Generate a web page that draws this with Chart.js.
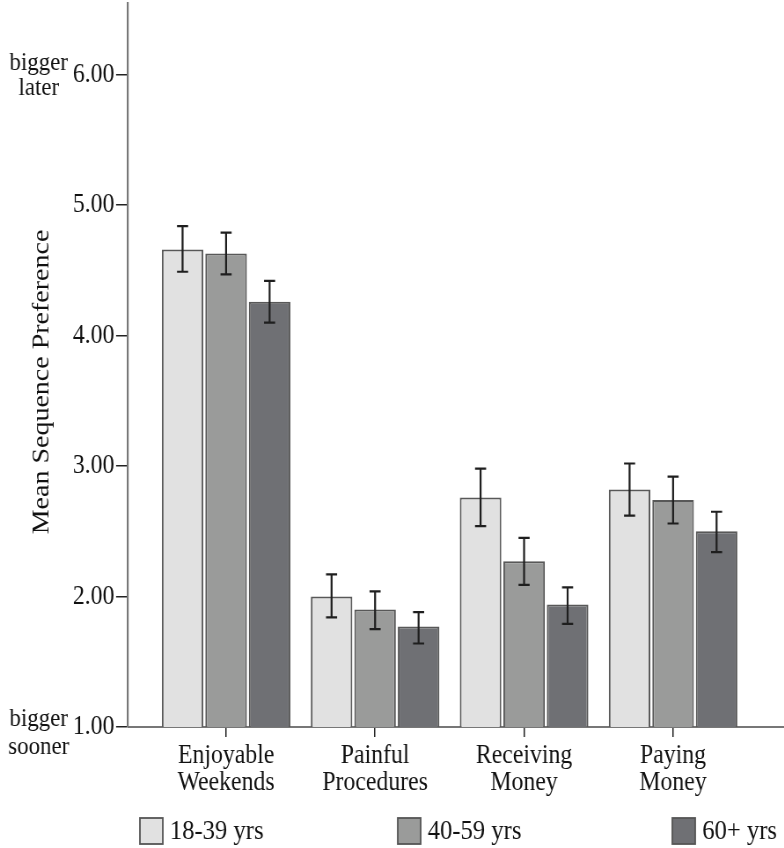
<!DOCTYPE html>
<html>
<head>
<meta charset="utf-8">
<script src="https://cdn.jsdelivr.net/npm/chart.js@4.4.1/dist/chart.umd.min.js"></script>
<style>
  body { margin: 0; background: #fff; overflow: hidden; }
  /* the source figure is squeezed horizontally, so draw wider and squeeze */
  #wrap { width: 891px; height: 848px; position: relative; transform: scaleX(0.88); transform-origin: 0 0; }
</style>
</head>
<body>
<div id="wrap"><canvas id="chart"></canvas></div>
<script>
const categories = [['Enjoyable', 'Weekends'], ['Painful', 'Procedures'], ['Receiving', 'Money'], ['Paying', 'Money']];
const ageGroups = ['18-39 yrs', '40-59 yrs', '60+ yrs'];
const means18 = [4.66, 2.00, 2.76, 2.82];
const means40 = [4.63, 1.90, 2.27, 2.74];
const means60 = [4.26, 1.77, 1.94, 2.50];
const lower18 = [4.49, 1.84, 2.54, 2.62];
const upper18 = [4.84, 2.17, 2.98, 3.02];
const lower40 = [4.47, 1.75, 2.09, 2.56];
const upper40 = [4.79, 2.04, 2.45, 2.92];
const lower60 = [4.10, 1.64, 1.79, 2.34];
const upper60 = [4.42, 1.88, 2.07, 2.65];
const yTicks = [1, 2, 3, 4, 5, 6];
const colors = ['#e1e1e1', '#9a9b9a', '#6f7074'];

const serif = "'Liberation Serif', 'Times New Roman', serif";
const lows = [lower18, lower40, lower60];
const highs = [upper18, upper40, upper60];

// error bars on top of each bar
const errorBars = {
    id: 'errorBars',
    afterDatasetsDraw(chart) {
        const ctx = chart.ctx;
        const y = chart.scales.y;
        ctx.save();
        ctx.strokeStyle = '#1e1e1e';
        ctx.lineWidth = 2.2;
        chart.data.datasets.forEach((ds, di) => {
            chart.getDatasetMeta(di).data.forEach((bar, i) => {
                const top = y.getPixelForValue(highs[di][i]);
                const bot = y.getPixelForValue(lows[di][i]);
                ctx.beginPath();
                ctx.moveTo(bar.x, top); ctx.lineTo(bar.x, bot);
                ctx.moveTo(bar.x - 6.3, top); ctx.lineTo(bar.x + 6.3, top);
                ctx.moveTo(bar.x - 6.3, bot); ctx.lineTo(bar.x + 6.3, bot);
                ctx.stroke();
            });
        });
        ctx.restore();
    }
};

// axis title, end labels and legend
const extras = {
    id: 'extras',
    afterDraw(chart) {
        const ctx = chart.ctx;
        const y = chart.scales.y;
        ctx.save();
        ctx.fillStyle = '#111';
        ctx.font = '28px ' + serif;
        ctx.textAlign = 'center';
        ctx.textBaseline = 'middle';
        ctx.translate(48, 382);
        ctx.rotate(-Math.PI / 2);
        ctx.fillText('Mean Sequence Preference', 0, 0);
        ctx.restore();

        ctx.save();
        ctx.fillStyle = '#111';
        ctx.font = '26px ' + serif;
        ctx.textAlign = 'center';
        ctx.textBaseline = 'alphabetic';
        const yTop = y.getPixelForValue(6);
        ctx.fillText('bigger', 44, yTop - 5);
        ctx.fillText('later', 44, yTop + 20);
        const yBot = y.getPixelForValue(1);
        ctx.fillText('bigger', 44, yBot - 1);
        ctx.fillText('sooner', 44, yBot + 27);
        ctx.restore();

        ctx.save();
        ctx.font = '28px ' + serif;
        ctx.textBaseline = 'middle';
        ctx.textAlign = 'left';
        const boxX = [159, 452, 764];
        ageGroups.forEach((g, i) => {
            ctx.fillStyle = colors[i];
            ctx.fillRect(boxX[i], 818, 26, 26);
            ctx.strokeStyle = '#555';
            ctx.lineWidth = 1.8;
            ctx.strokeRect(boxX[i], 818, 26, 26);
            ctx.fillStyle = '#111';
            ctx.fillText(g, boxX[i] + 34, 832);
        });
        ctx.restore();
    }
};

const datasets = [means18, means40, means60].map((vals, di) => ({
    label: ageGroups[di],
    data: vals.map((v, i) => ({ x: i + 1, y: v })),
    backgroundColor: colors[di],
    borderColor: '#585858',
    borderWidth: 2,
    categoryPercentage: 0.876,
    barPercentage: 0.955
}));

new Chart(document.getElementById('chart'), {
    type: 'bar',
    data: { datasets },
    options: {
        responsive: true,
        maintainAspectRatio: false,
        animation: false,
        layout: { padding: { top: 3, left: 0, right: 0, bottom: 51 } },
        plugins: { legend: { display: false }, tooltip: { enabled: false } },
        scales: {
            x: {
                type: 'linear',
                offset: false,
                min: 0.342,
                max: 4.745,
                afterBuildTicks: axis => { axis.ticks = categories.map((c, i) => ({ value: i + 1 })); },
                afterFit: axis => { axis.height = 70; axis.paddingLeft = 0; axis.paddingRight = 0; },
                ticks: {
                    callback: v => categories[v - 1],
                    autoSkip: false,
                    maxRotation: 0,
                    padding: 5,
                    color: '#111',
                    font: { family: serif, size: 27, lineHeight: 1.0 }
                },
                grid: { offset: false, drawOnChartArea: false, drawTicks: true, tickLength: 10, color: '#222', lineWidth: 1.5 },
                border: { color: '#777', width: 2 }
            },
            y: {
                min: 1,
                max: 6.55,
                beginAtZero: false,
                afterBuildTicks: axis => { axis.ticks = yTicks.map(v => ({ value: v })); },
                afterFit: axis => { axis.width = 145.5; axis.paddingTop = 0; axis.paddingBottom = 0; },
                ticks: {
                    callback: v => v.toFixed(2),
                    padding: 2,
                    color: '#111',
                    font: { family: serif, size: 27 }
                },
                grid: { drawOnChartArea: false, drawTicks: true, tickLength: 13.6, color: '#222', lineWidth: 1.5 },
                border: { color: '#777', width: 2.2 }
            }
        }
    },
    plugins: [errorBars, extras]
});
</script>
</body>
</html>
